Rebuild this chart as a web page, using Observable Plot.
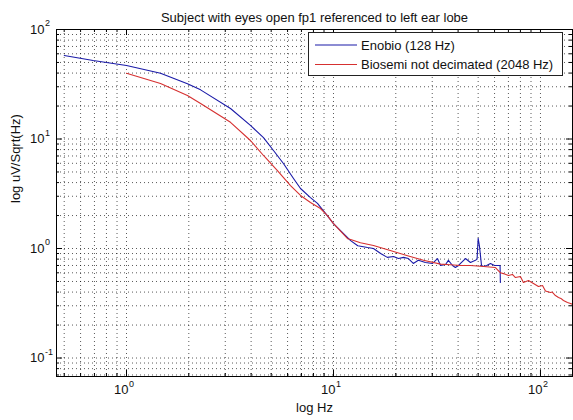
<!DOCTYPE html>
<html>
<head>
<meta charset="utf-8">
<script src="https://cdn.jsdelivr.net/npm/d3@7"></script>
<script src="https://cdn.jsdelivr.net/npm/@observablehq/plot@0.6"></script>
<style>
  html, body { margin: 0; padding: 0; background: #fff; }
  #chart { width: 573px; height: 420px; }
  svg { font-family: "Liberation Sans", Arial, sans-serif; }
</style>
</head>
<body>
<div id="chart"></div>
<script>
// ---- data ----
const titleText = "Subject with eyes open fp1 referenced to left ear lobe";
const xLabel = "log Hz";
const yLabel = "log uV/Sqrt(Hz)";
const seriesNames = ["Enobio (128 Hz)", "Biosemi not decimated (2048 Hz)"];
const seriesColors = ["#1a1aa8", "#d63030"];

const enobioHz = [0.5, 0.69, 1.0, 1.46, 1.97, 2.28, 3.18, 3.97, 4.59, 5.13, 5.73, 6.41, 6.93, 7.74, 8.37, 9.15, 10.0, 11.7, 12.1, 13.1, 14.6, 15.6, 16.9, 18.2, 19.5, 20.6, 21.8, 23.0, 24.3, 25.7, 27.8, 30.1, 31.8, 32.9, 34.8, 35.9, 37.6, 38.8, 40.2, 41.1, 43.4, 45.9, 48.5, 49.4, 50.0, 50.7, 51.9, 53.1, 55.0, 57.3, 60.0, 63.8, 64.0];
const enobioAmp = [57.9, 52.1, 46.9, 39.9, 31.9, 28.1, 19.0, 13.3, 10.3, 7.85, 5.97, 4.36, 3.53, 2.92, 2.58, 2.09, 1.69, 1.26, 1.18, 1.06, 1.02, 1.0, 0.90, 0.83, 0.845, 0.81, 0.83, 0.81, 0.73, 0.78, 0.745, 0.73, 0.81, 0.70, 0.715, 0.78, 0.70, 0.67, 0.70, 0.73, 0.81, 0.745, 0.78, 0.80, 1.24, 1.06, 0.70, 0.685, 0.70, 0.73, 0.70, 0.70, 0.49];

const biosemiHz = [1.0, 1.46, 1.97, 2.28, 3.18, 3.97, 4.59, 5.36, 6.20, 6.93, 7.74, 8.65, 9.35, 10.0, 11.7, 12.1, 13.5, 15.6, 18.8, 22.8, 27.2, 32.9, 36.7, 41.1, 45.9, 53.1, 60.6, 64.1, 66.2, 70.0, 73.2, 75.7, 80.0, 82.7, 87.5, 92.5, 97.8, 102.3, 105.7, 111.7, 114.0, 118.1, 122.2, 125.5, 129.1, 135.0, 139.6, 143.0];
const biosemiAmp = [39.9, 32.1, 25.0, 21.1, 14.2, 9.69, 7.07, 5.15, 3.76, 3.05, 2.63, 2.32, 2.0, 1.69, 1.23, 1.21, 1.13, 1.065, 0.96, 0.86, 0.78, 0.72, 0.71, 0.70, 0.70, 0.685, 0.67, 0.60, 0.59, 0.567, 0.58, 0.543, 0.555, 0.49, 0.51, 0.48, 0.45, 0.46, 0.41, 0.396, 0.40, 0.372, 0.357, 0.35, 0.335, 0.321, 0.315, 0.308];

// ticks / grid
const xMajor = [1, 10, 100];
const xMinor = [0.5, 0.6, 0.7, 0.8, 0.9, 2, 3, 4, 5, 6, 7, 8, 9, 20, 30, 40, 50, 60, 70, 80, 90];
const yMajor = [0.1, 1, 10, 100];
const yMinor = [0.07, 0.08, 0.09, 0.2, 0.3, 0.4, 0.5, 0.6, 0.7, 0.8, 0.9, 2, 3, 4, 5, 6, 7, 8, 9, 20, 30, 40, 50, 60, 70, 80, 90];
const xTickExp = ["0", "1", "2"];
const yTickExp = ["-1", "0", "1", "2"];

// ---- build table ----
const enobio = enobioHz.map((f, i) => ({f, v: enobioAmp[i]}));
const biosemi = biosemiHz.map((f, i) => ({f, v: biosemiAmp[i]}));

const W = 573, H = 420;
const mL = 56, mR = 1, mT = 29, mB = 44;
const fw = W - mL - mR, fh = H - mT - mB;
const gridStyle = {stroke: "#000", strokeOpacity: 0.65, strokeDasharray: "1,3", strokeWidth: 1};
const majT = 6, minT = 3;

const plot = Plot.plot({
  width: W, height: H,
  marginLeft: mL, marginRight: mR, marginTop: mT, marginBottom: mB,
  style: {fontFamily: "'Liberation Sans', Arial, sans-serif", background: "#fff"},
  x: {type: "log", domain: [0.459, 142.8], axis: null},
  y: {type: "log", domain: [0.0678, 100], axis: null},
  marks: [
    // grid
    Plot.ruleX(xMinor.concat(xMajor), gridStyle),
    Plot.ruleY(yMinor.concat(yMajor.slice(0, 3)), gridStyle),
    // tick marks (inward) on all four sides
    Plot.ruleX(xMajor, {insetTop: fh - majT, stroke: "#000"}),
    Plot.ruleX(xMajor, {insetBottom: fh - majT, stroke: "#000"}),
    Plot.ruleX(xMinor, {insetTop: fh - minT, stroke: "#000"}),
    Plot.ruleX(xMinor, {insetBottom: fh - minT, stroke: "#000"}),
    Plot.ruleY(yMajor, {insetRight: fw - majT, stroke: "#000"}),
    Plot.ruleY(yMajor, {insetLeft: fw - majT, stroke: "#000"}),
    Plot.ruleY(yMinor, {insetRight: fw - minT, stroke: "#000"}),
    Plot.ruleY(yMinor, {insetLeft: fw - minT, stroke: "#000"}),
    // data
    Plot.line(enobio, {x: "f", y: "v", stroke: seriesColors[0], strokeWidth: 1.1, clip: true}),
    Plot.line(biosemi, {x: "f", y: "v", stroke: seriesColors[1], strokeWidth: 1.1, clip: true}),
    Plot.frame({stroke: "#000"}),
    // x tick labels
    Plot.text(xMajor, {x: d => d, frameAnchor: "bottom", text: () => "10", textAnchor: "end", dx: 2, dy: 17, fontSize: 13, fill: "#111"}),
    Plot.text(xMajor, {x: d => d, frameAnchor: "bottom", text: (d, i) => xTickExp[i], textAnchor: "start", dx: 2.5, dy: 10, fontSize: 9, fill: "#111"}),
    // y tick labels
    Plot.text(yMajor, {y: d => d, frameAnchor: "left", text: () => "10", textAnchor: "end", dx: -12, dy: 0, fontSize: 13, fill: "#111"}),
    Plot.text(yMajor, {y: d => d, frameAnchor: "left", text: (d, i) => yTickExp[i], textAnchor: "start", dx: -11.5, dy: -6, fontSize: 9, fill: "#111"}),
    // axis labels + title
    Plot.text([xLabel], {frameAnchor: "bottom", dy: 35, fontSize: 13, fill: "#111"}),
    Plot.text([yLabel], {frameAnchor: "left", rotate: -90, dx: -41, fontSize: 13, fill: "#111"}),
    Plot.text([titleText], {frameAnchor: "top", dy: -17, fontSize: 13, fill: "#111"})
  ]
});

// legend box (drawn into the same SVG)
const svg = d3.select(plot);
const lg = svg.append("g").attr("font-size", 13).attr("fill", "#111").attr("text-anchor", "start");
lg.append("rect").attr("x", 308.5).attr("y", 32.5).attr("width", 254).attr("height", 43)
  .attr("fill", "#fff").attr("stroke", "#222");
seriesNames.forEach((name, i) => {
  const yy = 45 + i * 19.5;
  lg.append("line").attr("x1", 315).attr("x2", 357).attr("y1", yy).attr("y2", yy)
    .attr("stroke", seriesColors[i]).attr("stroke-width", 1.1);
  lg.append("text").attr("x", 361).attr("y", yy).attr("dy", "0.35em")
    .attr("text-anchor", "start").text(name);
});

document.getElementById("chart").appendChild(plot);
</script>
</body>
</html>
